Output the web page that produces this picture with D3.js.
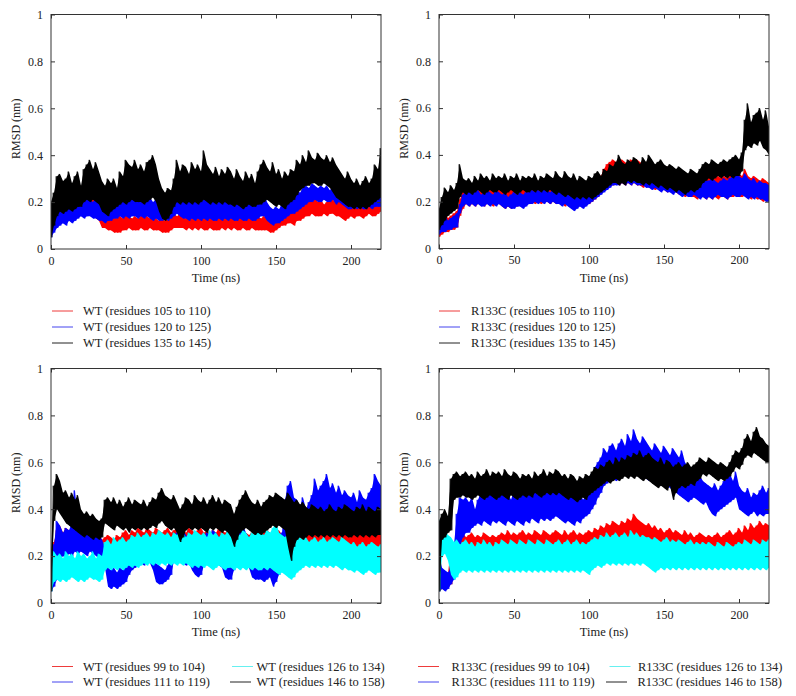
<!DOCTYPE html>
<html><head><meta charset="utf-8">
<script src="https://cdn.jsdelivr.net/npm/d3@7"></script>
<style>body{margin:0;background:#fff}svg{display:block}</style>
</head><body>
<svg id="chart" width="796" height="696"></svg>
<script>
// ---------------- DATA (RMSD in nm, sampled every 2 ns: upper / lower excursions) ----------------
const timeStepNs = 2;
const xTicks = [0, 50, 100, 150, 200];
const yTicks = [0, 0.2, 0.4, 0.6, 0.8, 1];
const yTickLabels = ["0", "0.2", "0.4", "0.6", "0.8", "1"];
const xAxisTitle = "Time (ns)";
const yAxisTitle = "RMSD (nm)";

// Panel A: WT
const wt105Hi = [.18,.17,.15,.17,.16,.18,.19,.20,.22,.24, .22,.21,.22,.21,.22,.20,.19,.16,.14,.13, .14,.13,.14,.14,.13,.15,.14,.13,.14,.13, .14,.15,.14,.13,.14,.13,.12,.13,.12,.13, .14,.15,.14,.15,.14,.13,.14,.13,.14,.15, .14,.13,.14,.13,.14,.13,.14,.13,.15,.14, .13,.14,.13,.14,.13,.14,.13,.14,.13,.14, .13,.14,.13,.12,.13,.14,.15,.16,.15,.17, .18,.20,.19,.21,.20,.22,.21,.20,.22,.20, .21,.19,.20,.22,.21,.20,.21,.20,.19,.18, .20,.21,.19,.20,.21,.19,.20,.21,.20,.19, .22];
const wt105Lo = [.13,.11,.10,.11,.12,.12,.13,.13,.14,.15, .15,.14,.15,.15,.14,.13,.12,.09,.09,.08, .08,.07,.07,.07,.08,.08,.09,.08,.08,.08, .09,.08,.08,.09,.08,.08,.08,.07,.07,.07, .08,.09,.09,.09,.09,.08,.09,.08,.09,.08, .09,.08,.08,.09,.08,.08,.08,.09,.08,.09, .08,.09,.08,.08,.09,.08,.08,.09,.08,.08, .08,.08,.08,.07,.07,.08,.09,.10,.10,.11, .11,.10,.12,.12,.13,.14,.14,.15,.14,.14, .14,.15,.14,.15,.15,.14,.14,.13,.12,.13, .14,.13,.14,.14,.13,.14,.15,.14,.14,.15, .16];
const wt120Hi = [.13,.14,.16,.18,.17,.19,.18,.17,.20,.21, .19,.20,.22,.21,.20,.22,.21,.19,.20,.18, .19,.20,.18,.21,.22,.20,.21,.23,.22,.21, .23,.22,.21,.22,.20,.21,.19,.18,.20,.19, .21,.22,.25,.24,.22,.21,.22,.20,.21,.22, .20,.21,.22,.20,.21,.19,.20,.21,.22,.20, .21,.22,.20,.21,.19,.20,.21,.20,.19,.21, .22,.24,.20,.18,.17,.18,.17,.19,.20,.22, .23,.22,.25,.24,.26,.27,.26,.28,.27,.26, .27,.26,.27,.25,.28,.26,.30,.25,.24,.23, .25,.24,.23,.25,.24,.23,.24,.25,.24,.26, .25];
const wt120Lo = [.05,.07,.09,.10,.11,.10,.12,.11,.12,.13, .14,.13,.14,.14,.13,.13,.12,.12,.11,.12, .12,.13,.13,.14,.13,.14,.13,.14,.14,.13, .14,.13,.14,.13,.12,.13,.12,.12,.13,.12, .13,.14,.15,.14,.13,.13,.12,.13,.12,.13, .12,.13,.12,.13,.12,.12,.13,.12,.13,.12, .13,.12,.12,.13,.12,.12,.13,.12,.12,.13, .14,.14,.12,.11,.10,.11,.11,.12,.13,.14, .15,.15,.16,.17,.18,.19,.20,.20,.21,.20, .20,.21,.20,.20,.21,.19,.20,.19,.18,.17, .17,.18,.17,.18,.17,.17,.18,.17,.18,.18, .18];
const wt135Hi = [.20,.24,.31,.32,.29,.30,.33,.28,.31,.33, .27,.34,.36,.38,.34,.37,.33,.29,.27,.30, .28,.30,.26,.33,.31,.38,.36,.35,.38,.34, .36,.33,.37,.38,.40,.36,.30,.26,.24,.26, .25,.30,.38,.33,.36,.35,.32,.37,.34,.36, .33,.42,.36,.34,.32,.35,.31,.34,.32,.35, .33,.30,.34,.31,.29,.33,.30,.32,.28,.33, .36,.38,.35,.33,.37,.32,.34,.30,.33,.31, .34,.33,.38,.36,.40,.37,.42,.39,.38,.41, .39,.38,.40,.37,.39,.36,.34,.32,.30,.33, .30,.28,.30,.27,.29,.31,.28,.30,.36,.34, .43];
const wt135Lo = [.05,.10,.14,.16,.15,.16,.17,.16,.17,.18, .18,.20,.21,.20,.21,.20,.19,.16,.15,.14, .16,.17,.18,.19,.20,.19,.20,.21,.20,.20, .20,.19,.20,.21,.22,.20,.16,.13,.12,.13, .15,.18,.20,.19,.20,.19,.20,.19,.20,.19, .20,.21,.20,.19,.20,.19,.20,.19,.20,.19, .19,.18,.19,.18,.17,.18,.19,.18,.18,.19, .19,.20,.21,.20,.19,.18,.19,.18,.17,.19, .20,.21,.23,.25,.26,.27,.27,.28,.28,.27, .27,.28,.27,.26,.24,.22,.21,.20,.19,.18, .18,.17,.18,.17,.18,.17,.18,.19,.20,.21, .22];

// Panel B: R133C
const mu105Hi = [.12,.14,.15,.13,.14,.15,.16,.21,.25,.27, .26,.27,.28,.26,.27,.28,.26,.27,.28,.27, .28,.27,.26,.28,.27,.29,.27,.28,.27,.28, .29,.28,.29,.27,.28,.30,.29,.28,.29,.28, .29,.28,.27,.28,.29,.27,.28,.27,.28,.27, .28,.29,.30,.32,.31,.34,.36,.37,.38,.37, .36,.38,.37,.36,.38,.37,.38,.37,.36,.37, .36,.35,.36,.34,.35,.34,.35,.33,.34,.33, .32,.33,.32,.31,.32,.31,.30,.31,.30,.31, .30,.31,.30,.31,.30,.31,.30,.32,.31,.33, .32,.31,.34,.31,.30,.31,.30,.29,.30,.29, .28];
const mu105Lo = [.05,.06,.07,.07,.08,.08,.09,.14,.17,.19, .18,.19,.18,.19,.19,.18,.19,.19,.18,.19, .19,.18,.17,.18,.17,.18,.18,.19,.18,.19, .19,.20,.19,.20,.19,.20,.20,.19,.20,.19, .20,.19,.18,.19,.18,.17,.18,.19,.18,.19, .19,.20,.21,.22,.24,.25,.26,.27,.27,.28, .27,.28,.27,.28,.27,.28,.27,.27,.26,.27, .26,.26,.25,.26,.25,.25,.24,.25,.24,.24, .23,.23,.22,.23,.22,.22,.21,.22,.22,.21, .22,.21,.22,.21,.22,.22,.21,.22,.22,.23, .22,.22,.23,.22,.21,.22,.21,.21,.20,.21, .20];
const mu120Hi = [.11,.13,.14,.12,.13,.14,.15,.19,.23,.25, .24,.25,.24,.25,.23,.24,.25,.24,.23,.25, .24,.23,.24,.22,.23,.24,.23,.24,.23,.24, .24,.25,.24,.25,.24,.26,.25,.24,.25,.26, .25,.24,.23,.24,.23,.22,.23,.22,.23,.24, .24,.25,.26,.27,.28,.30,.32,.33,.34,.35, .34,.35,.34,.35,.34,.36,.35,.34,.35,.34, .33,.34,.33,.32,.31,.32,.31,.30,.31,.30, .29,.30,.29,.28,.29,.28,.28,.29,.30,.29, .29,.30,.29,.28,.29,.30,.29,.30,.31,.32, .31,.30,.32,.30,.29,.30,.28,.29,.28,.28, .27];
const mu120Lo = [.06,.07,.07,.08,.08,.09,.09,.15,.18,.19, .18,.19,.18,.19,.18,.18,.19,.18,.19,.18, .19,.18,.17,.18,.17,.17,.18,.18,.17,.18, .19,.19,.20,.19,.20,.19,.20,.19,.20,.19, .19,.18,.19,.18,.17,.16,.17,.18,.17,.18, .19,.20,.21,.22,.23,.24,.25,.26,.27,.27, .27,.28,.27,.28,.27,.28,.27,.27,.27,.26, .26,.25,.26,.25,.24,.25,.24,.24,.23,.24, .23,.22,.23,.22,.22,.23,.22,.21,.22,.21, .22,.21,.22,.23,.22,.22,.21,.22,.23,.22, .22,.23,.22,.21,.22,.21,.22,.21,.21,.20, .20];
const mu135Hi = [.17,.22,.26,.24,.27,.25,.28,.36,.30,.29, .30,.28,.31,.29,.32,.30,.31,.29,.32,.30, .31,.30,.32,.29,.31,.30,.32,.29,.31,.30, .31,.30,.32,.29,.31,.30,.32,.31,.30,.33, .31,.30,.33,.31,.30,.32,.29,.31,.30,.29, .31,.30,.32,.33,.31,.34,.33,.36,.35,.37, .40,.37,.36,.38,.37,.39,.38,.36,.39,.37, .40,.38,.36,.37,.38,.36,.35,.36,.35,.34, .35,.34,.33,.32,.34,.33,.32,.34,.36,.37, .36,.38,.37,.36,.37,.38,.37,.38,.39,.40, .38,.41,.55,.62,.54,.57,.58,.60,.55,.59, .52];
const mu135Lo = [.08,.10,.12,.14,.15,.16,.17,.22,.24,.23, .24,.23,.24,.25,.24,.23,.24,.25,.24,.24, .25,.24,.23,.24,.25,.24,.23,.24,.25,.24, .24,.25,.24,.25,.24,.25,.24,.25,.24,.23, .24,.23,.22,.23,.22,.21,.22,.21,.22,.21, .22,.21,.22,.23,.24,.25,.26,.27,.28,.28, .27,.28,.27,.29,.28,.29,.28,.28,.27,.28, .27,.28,.27,.26,.27,.26,.25,.26,.25,.24, .25,.24,.23,.24,.25,.24,.25,.26,.28,.29, .30,.29,.30,.31,.30,.31,.30,.31,.30,.31, .31,.33,.42,.44,.43,.45,.44,.46,.43,.42, .40];

// Panel C: WT
const wt99Hi = [.20,.26,.31,.33,.30,.32,.31,.29,.30,.31, .29,.30,.28,.29,.30,.28,.29,.27,.28,.29, .28,.27,.29,.28,.30,.31,.29,.31,.30,.32, .31,.30,.32,.31,.30,.32,.31,.30,.31,.32, .30,.31,.32,.30,.31,.30,.32,.31,.30,.31, .32,.30,.31,.29,.31,.30,.32,.31,.30,.31, .29,.27,.29,.30,.31,.30,.29,.30,.31,.30, .29,.30,.31,.30,.29,.30,.31,.29,.30,.31, .30,.29,.31,.30,.32,.33,.31,.32,.31,.33, .31,.32,.30,.31,.33,.31,.30,.32,.31,.30, .31,.30,.32,.31,.29,.30,.31,.32,.30,.31, .30];
const wt99Lo = [.06,.12,.20,.22,.23,.22,.24,.23,.22,.23, .22,.23,.22,.23,.22,.22,.23,.22,.21,.22, .21,.22,.21,.22,.23,.24,.23,.25,.24,.25, .25,.26,.25,.26,.25,.26,.25,.26,.25,.26, .25,.26,.25,.26,.25,.26,.25,.26,.26,.25, .26,.25,.26,.25,.26,.25,.26,.25,.24,.25, .23,.22,.23,.25,.26,.25,.26,.25,.26,.25, .25,.26,.25,.26,.25,.26,.25,.26,.25,.26, .25,.26,.25,.24,.25,.24,.25,.24,.25,.24, .25,.24,.25,.24,.25,.24,.25,.24,.24,.23, .24,.23,.24,.23,.22,.23,.24,.23,.22,.23, .22];
const wt111Hi = [.15,.25,.35,.33,.30,.32,.31,.34,.48,.33, .31,.30,.32,.29,.31,.28,.30,.27,.24,.15, .14,.15,.13,.15,.14,.20,.25,.22,.26,.28, .27,.29,.28,.26,.27,.17,.16,.15,.14,.16, .24,.28,.30,.29,.31,.29,.27,.28,.25,.22, .20,.28,.30,.29,.31,.30,.28,.29,.22,.17, .16,.25,.32,.31,.33,.30,.28,.18,.17,.16, .18,.17,.20,.19,.22,.20,.21,.30,.44,.50, .52,.45,.44,.41,.45,.40,.43,.46,.53,.48, .50,.52,.55,.49,.51,.47,.50,.46,.48,.46, .45,.47,.43,.48,.45,.44,.47,.49,.55,.52, .50];
const wt111Lo = [.05,.07,.10,.18,.20,.19,.21,.20,.22,.21, .22,.21,.20,.22,.21,.20,.19,.18,.15,.07, .06,.07,.06,.07,.08,.09,.12,.14,.15,.16, .17,.16,.18,.17,.14,.09,.08,.08,.09,.10, .12,.18,.19,.18,.17,.16,.17,.14,.12,.11, .12,.16,.18,.17,.18,.17,.16,.15,.11,.10, .10,.14,.18,.19,.18,.17,.15,.11,.10,.10, .10,.09,.10,.11,.07,.09,.12,.20,.26,.28, .27,.28,.30,.29,.30,.29,.30,.31,.32,.31, .32,.33,.31,.32,.31,.30,.31,.30,.29,.30, .30,.31,.30,.31,.30,.31,.32,.31,.32,.33, .32];
const wt126Hi = [.18,.22,.20,.21,.19,.22,.20,.21,.19,.22, .20,.21,.19,.20,.22,.19,.21,.20,.26,.27, .25,.28,.26,.27,.28,.26,.27,.29,.28,.30, .28,.29,.30,.28,.30,.29,.31,.30,.29,.30, .28,.30,.29,.31,.30,.28,.30,.29,.31,.30, .29,.30,.28,.31,.29,.30,.28,.30,.29,.31, .29,.28,.30,.29,.31,.30,.28,.30,.29,.31, .30,.29,.31,.30,.32,.35,.30,.29,.28,.30, .26,.24,.27,.28,.27,.28,.26,.27,.28,.26, .27,.28,.26,.27,.28,.27,.26,.28,.27,.26, .25,.26,.24,.25,.26,.24,.25,.26,.25,.24, .25];
const wt126Lo = [.05,.09,.10,.09,.10,.09,.10,.11,.10,.09, .10,.09,.10,.11,.10,.10,.09,.10,.14,.15, .14,.15,.14,.15,.14,.15,.16,.15,.16,.15, .16,.17,.16,.17,.16,.17,.16,.17,.16,.17, .16,.17,.16,.17,.16,.17,.16,.15,.16,.15, .16,.15,.16,.15,.14,.15,.16,.15,.14,.15, .15,.14,.15,.14,.15,.14,.15,.14,.15,.14, .14,.15,.14,.15,.14,.13,.12,.13,.12,.11, .10,.11,.13,.14,.15,.16,.15,.16,.15,.16, .15,.16,.15,.16,.15,.16,.15,.14,.15,.14, .14,.13,.14,.13,.12,.13,.14,.13,.12,.13, .13];
const wt146Hi = [.22,.50,.55,.52,.47,.48,.45,.47,.44,.46, .40,.38,.39,.37,.38,.36,.35,.36,.44,.45, .43,.45,.42,.44,.41,.43,.45,.42,.44,.43, .42,.44,.41,.43,.45,.44,.47,.49,.46,.45, .44,.46,.43,.40,.42,.45,.44,.42,.46,.44, .43,.45,.42,.44,.46,.43,.45,.42,.44,.43, .42,.38,.41,.44,.46,.48,.45,.43,.42,.44, .41,.43,.44,.46,.45,.47,.46,.45,.44,.47, .45,.43,.44,.42,.43,.41,.40,.42,.41,.40, .41,.39,.40,.42,.40,.39,.41,.40,.42,.41, .40,.39,.41,.40,.42,.39,.41,.40,.39,.41, .40];
const wt146Lo = [.05,.35,.40,.38,.36,.34,.33,.32,.31,.30, .29,.28,.29,.28,.27,.28,.27,.28,.34,.33, .32,.31,.33,.32,.31,.32,.30,.32,.31,.32, .31,.32,.31,.32,.33,.32,.34,.35,.33,.32, .31,.32,.30,.26,.28,.31,.32,.31,.32,.31, .32,.31,.30,.32,.31,.32,.31,.30,.31,.30, .28,.24,.27,.30,.31,.32,.31,.30,.29,.30, .29,.30,.31,.32,.33,.32,.33,.32,.31,.24, .18,.24,.27,.28,.27,.28,.29,.28,.29,.28, .29,.28,.29,.28,.29,.28,.29,.28,.29,.28, .28,.29,.28,.29,.28,.29,.28,.29,.28,.29, .29];

// Panel D: R133C
const mu99Hi = [.30,.12,.11,.12,.25,.22,.28,.29,.30,.28, .29,.30,.28,.29,.28,.30,.29,.28,.29,.28, .29,.30,.29,.31,.29,.30,.29,.30,.31,.29, .30,.29,.31,.30,.29,.31,.30,.29,.30,.31, .30,.29,.31,.29,.30,.31,.29,.30,.29,.30, .31,.30,.32,.31,.33,.32,.34,.33,.35,.34, .33,.35,.34,.36,.35,.38,.36,.35,.34,.33, .34,.32,.33,.31,.32,.30,.31,.32,.30,.31, .30,.29,.31,.29,.30,.28,.29,.30,.29,.28, .29,.28,.29,.30,.28,.29,.30,.31,.29,.30, .32,.30,.33,.31,.34,.32,.33,.35,.33,.34, .33];
const mu99Lo = [.05,.06,.06,.07,.08,.12,.20,.21,.22,.21, .22,.21,.20,.21,.22,.21,.22,.21,.22,.21, .22,.21,.22,.21,.22,.21,.22,.21,.22,.21, .22,.21,.22,.21,.22,.21,.22,.21,.22,.21, .22,.21,.22,.21,.22,.21,.22,.21,.22,.21, .22,.23,.22,.23,.24,.25,.24,.25,.26,.25, .26,.25,.26,.25,.26,.25,.26,.25,.24,.25, .24,.25,.24,.23,.24,.23,.22,.23,.22,.23, .22,.21,.22,.21,.22,.21,.20,.21,.20,.21, .20,.21,.20,.21,.20,.21,.22,.21,.22,.23, .22,.23,.24,.23,.24,.25,.24,.25,.24,.25, .25];
const mu111Hi = [.20,.15,.14,.13,.15,.25,.38,.45,.44,.45, .43,.45,.40,.44,.47,.45,.46,.48,.45,.47, .46,.48,.45,.47,.44,.48,.46,.47,.49,.46, .48,.47,.50,.46,.49,.47,.52,.48,.50,.55, .50,.48,.47,.49,.46,.48,.45,.47,.44,.46, .50,.55,.58,.60,.62,.66,.64,.67,.68,.65, .68,.70,.67,.72,.69,.74,.70,.68,.71,.69, .67,.65,.68,.66,.64,.67,.65,.63,.66,.64, .62,.65,.60,.58,.56,.55,.53,.54,.52,.51, .50,.49,.51,.48,.50,.52,.53,.55,.52,.56, .50,.48,.47,.49,.45,.47,.46,.48,.50,.47, .49];
const mu111Lo = [.05,.06,.05,.06,.08,.10,.16,.25,.28,.30, .30,.32,.33,.34,.33,.35,.34,.33,.35,.34, .35,.34,.33,.35,.34,.33,.35,.34,.33,.35, .34,.36,.35,.34,.36,.35,.36,.35,.36,.37, .36,.35,.34,.35,.34,.33,.35,.34,.36,.37, .38,.40,.42,.45,.47,.50,.51,.52,.53,.52, .53,.54,.55,.54,.55,.56,.55,.54,.55,.53, .52,.53,.51,.52,.50,.51,.50,.49,.48,.47, .46,.45,.44,.43,.44,.45,.44,.43,.42,.43, .40,.38,.37,.39,.40,.41,.42,.43,.44,.45, .40,.39,.38,.37,.38,.39,.37,.38,.37,.38, .38];
const mu126Hi = [.36,.30,.31,.29,.28,.26,.27,.25,.26,.27, .25,.26,.24,.26,.25,.27,.25,.26,.24,.26, .25,.27,.26,.25,.27,.26,.25,.27,.26,.25, .27,.26,.25,.27,.26,.25,.27,.26,.25,.26, .27,.25,.26,.27,.25,.26,.27,.25,.26,.25, .26,.27,.28,.27,.29,.28,.30,.28,.29,.30, .28,.29,.30,.28,.31,.29,.30,.28,.29,.28, .28,.27,.28,.27,.26,.27,.28,.26,.27,.26, .27,.26,.25,.26,.27,.25,.26,.25,.26,.25, .26,.25,.24,.26,.25,.24,.26,.25,.24,.25, .26,.25,.27,.26,.25,.27,.26,.25,.27,.26, .27];
const mu126Lo = [.05,.20,.21,.18,.12,.10,.11,.13,.14,.13, .14,.13,.14,.13,.14,.13,.14,.13,.14,.13, .14,.13,.14,.13,.14,.13,.14,.13,.14,.13, .14,.13,.14,.13,.14,.13,.14,.13,.14,.13, .14,.13,.14,.13,.14,.13,.14,.13,.14,.13, .12,.14,.15,.16,.15,.16,.17,.16,.17,.16, .17,.16,.17,.16,.17,.16,.17,.16,.17,.16, .15,.14,.13,.14,.15,.14,.15,.14,.15,.14, .15,.14,.15,.14,.15,.14,.15,.14,.15,.14, .15,.14,.15,.14,.15,.14,.15,.14,.15,.14, .15,.14,.15,.14,.15,.14,.15,.14,.15,.14, .15];
const mu146Hi = [.35,.38,.40,.37,.53,.55,.56,.54,.55,.56, .54,.55,.53,.56,.54,.55,.57,.54,.56,.55, .56,.54,.57,.55,.54,.56,.55,.53,.55,.54, .55,.53,.56,.54,.55,.57,.54,.56,.55,.57, .56,.54,.55,.53,.55,.54,.52,.54,.53,.55, .54,.56,.58,.57,.59,.58,.60,.61,.59,.62, .60,.62,.61,.63,.62,.64,.63,.65,.62,.63, .64,.62,.61,.60,.62,.59,.61,.60,.58,.59, .60,.58,.59,.60,.58,.59,.60,.62,.61,.60, .62,.61,.60,.59,.60,.59,.58,.60,.63,.65, .64,.66,.70,.72,.69,.73,.75,.71,.70,.68, .67];
const mu146Lo = [.05,.27,.28,.30,.31,.44,.45,.45,.46,.45, .45,.44,.45,.46,.45,.44,.45,.46,.45,.44, .45,.46,.45,.44,.46,.45,.44,.45,.46,.45, .46,.45,.47,.46,.45,.46,.47,.46,.47,.46, .47,.46,.45,.44,.45,.44,.43,.44,.45,.44, .46,.47,.48,.49,.50,.51,.52,.51,.52,.53, .52,.53,.54,.53,.54,.53,.54,.53,.52,.53, .52,.51,.50,.49,.50,.49,.48,.50,.44,.47, .49,.50,.49,.50,.51,.50,.52,.53,.55,.54, .55,.54,.53,.52,.53,.52,.53,.54,.56,.58, .57,.59,.62,.63,.62,.64,.63,.62,.61,.60, .60];

// Legend labels
const labelsA = ["WT (residues 105 to 110)", "WT (residues 120 to 125)", "WT (residues 135 to 145)"];
const labelsB = ["R133C (residues 105 to 110)", "R133C (residues 120 to 125)", "R133C (residues 135 to 145)"];
const labelsC = ["WT (residues 99 to 104)", "WT (residues 111 to 119)", "WT (residues 126 to 134)", "WT (residues 146 to 158)"];
const labelsD = ["R133C (residues 99 to 104)", "R133C (residues 111 to 119)", "R133C (residues 126 to 134)", "R133C (residues 146 to 158)"];

// ---------------- STYLE / LAYOUT ----------------
const COLORS = {red: "#ff0000", blue: "#0000ff", cyan: "#00ffff", black: "#000000"};
const LEGEND_COLORS = {red: "#ee3b3b", blue: "#4444ee", cyan: "#66f0f0", black: "#222222"};
const FONT = "'Liberation Serif', 'DejaVu Serif', serif";

const panels = [
  {x0: 51, x1: 381, y0: 14.5, y1: 249,
   series: [{hi: wt105Hi, lo: wt105Lo, c: "red"}, {hi: wt120Hi, lo: wt120Lo, c: "blue"}, {hi: wt135Hi, lo: wt135Lo, c: "black"}],
   legend: labelsA.map((t, i) => ({text: t, c: ["red","blue","black"][i], lx: 52, tx: 83, y: 311 + i * 16}))},
  {x0: 439, x1: 769, y0: 14.5, y1: 248.5,
   series: [{hi: mu105Hi, lo: mu105Lo, c: "red"}, {hi: mu120Hi, lo: mu120Lo, c: "blue"}, {hi: mu135Hi, lo: mu135Lo, c: "black"}],
   legend: labelsB.map((t, i) => ({text: t, c: ["red","blue","black"][i], lx: 439, tx: 471, y: 311 + i * 16}))},
  {x0: 51, x1: 381, y0: 368.5, y1: 603,
   series: [{hi: wt99Hi, lo: wt99Lo, c: "red"}, {hi: wt111Hi, lo: wt111Lo, c: "blue"}, {hi: wt126Hi, lo: wt126Lo, c: "cyan"}, {hi: wt146Hi, lo: wt146Lo, c: "black"}],
   legend: [
     {text: labelsC[0], c: "red", lx: 52, tx: 83, y: 666.5},
     {text: labelsC[1], c: "blue", lx: 52, tx: 83, y: 682},
     {text: labelsC[2], c: "cyan", lx: 232, tx: 256.5, y: 666.5},
     {text: labelsC[3], c: "black", lx: 230, tx: 256.5, y: 682}]},
  {x0: 439, x1: 769, y0: 368.5, y1: 603,
   series: [{hi: mu99Hi, lo: mu99Lo, c: "red"}, {hi: mu111Hi, lo: mu111Lo, c: "blue"}, {hi: mu126Hi, lo: mu126Lo, c: "cyan"}, {hi: mu146Hi, lo: mu146Lo, c: "black"}],
   legend: [
     {text: labelsD[0], c: "red", lx: 418, tx: 451.5, y: 666.5},
     {text: labelsD[1], c: "blue", lx: 418, tx: 451.5, y: 682},
     {text: labelsD[2], c: "cyan", lx: 609.5, tx: 638, y: 666.5},
     {text: labelsD[3], c: "black", lx: 606, tx: 637.5, y: 682}]}
];

const svg = d3.select("#chart");

panels.forEach((p, pi) => {
  const x = d3.scaleLinear().domain([0, 220]).range([p.x0, p.x1]);
  const y = d3.scaleLinear().domain([0, 1]).range([p.y1, p.y0]);
  const g = svg.append("g");

  const clipId = "clip" + pi;
  svg.append("clipPath").attr("id", clipId).append("rect")
    .attr("x", p.x0).attr("y", p.y0).attr("width", p.x1 - p.x0).attr("height", p.y1 - p.y0);

  // series: dense band (per-sample min..max) plus the jagged excursions
  const area = d3.area().x(d => x(d.t)).y0(d => y(d.lo)).y1(d => y(d.hi));
  const line = d3.line().x(d => x(d[0])).y(d => y(d[1]));
  const sg = g.append("g").attr("clip-path", `url(#${clipId})`);
  p.series.forEach(s => {
    const n = Math.min(s.hi.length, s.lo.length);
    const rows = d3.range(n).map(i => ({t: i * timeStepNs, hi: s.hi[i], lo: s.lo[i]}));
    const zig = [];
    rows.forEach(r => { zig.push([r.t - 0.5, r.hi]); zig.push([r.t + 0.5, r.lo]); });
    sg.append("path").attr("d", area(rows)).attr("fill", COLORS[s.c]).attr("stroke", "none");
    sg.append("path").attr("d", line(zig))
      .attr("fill", "none").attr("stroke", COLORS[s.c])
      .attr("stroke-width", 0.9).attr("stroke-linejoin", "miter");
  });

  // frame
  g.append("rect").attr("x", p.x0).attr("y", p.y0)
    .attr("width", p.x1 - p.x0).attr("height", p.y1 - p.y0)
    .attr("fill", "none").attr("stroke", "#333").attr("stroke-width", 1);

  const styleAxis = sel => {
    sel.select(".domain").remove();
    sel.selectAll(".tick line").attr("stroke", "#333");
    sel.selectAll("text").attr("font-family", FONT).attr("font-size", 12).attr("fill", "#222");
  };

  g.append("g").attr("transform", `translate(0,${p.y1})`)
    .call(d3.axisBottom(x).tickValues(xTicks).tickSizeInner(-4).tickSizeOuter(0).tickPadding(7).tickFormat(d3.format("d")))
    .call(styleAxis);
  g.append("g").attr("transform", `translate(0,${p.y0})`)
    .call(d3.axisTop(x).tickValues(xTicks).tickSizeInner(-4).tickSizeOuter(0).tickFormat(""))
    .call(styleAxis);
  g.append("g").attr("transform", `translate(${p.x0},0)`)
    .call(d3.axisLeft(y).tickValues(yTicks).tickSizeInner(-4).tickSizeOuter(0).tickPadding(8)
      .tickFormat((d, i) => yTickLabels[i]))
    .call(styleAxis);
  g.append("g").attr("transform", `translate(${p.x1},0)`)
    .call(d3.axisRight(y).tickValues(yTicks).tickSizeInner(-4).tickSizeOuter(0).tickFormat(""))
    .call(styleAxis);

  // axis titles
  g.append("text").attr("x", (p.x0 + p.x1) / 2).attr("y", p.y1 + 33)
    .attr("text-anchor", "middle").attr("font-family", FONT).attr("font-size", 12.5).attr("fill", "#222")
    .text(xAxisTitle);
  g.append("text").attr("transform", `translate(${p.x0 - 31},${(p.y0 + p.y1) / 2 - 3}) rotate(-90)`)
    .attr("text-anchor", "middle").attr("font-family", FONT).attr("font-size", 12).attr("fill", "#222")
    .text(yAxisTitle);

  // legend
  const lg = g.append("g");
  p.legend.forEach(L => {
    lg.append("line").attr("x1", L.lx).attr("x2", L.lx + 21).attr("y1", L.y).attr("y2", L.y)
      .attr("stroke", LEGEND_COLORS[L.c]).attr("stroke-width", 1);
    lg.append("text").attr("x", L.tx).attr("y", L.y).attr("dy", "0.35em")
      .attr("font-family", FONT).attr("font-size", 12.5).attr("fill", "#222").text(L.text);
  });
});
</script>
</body></html>
